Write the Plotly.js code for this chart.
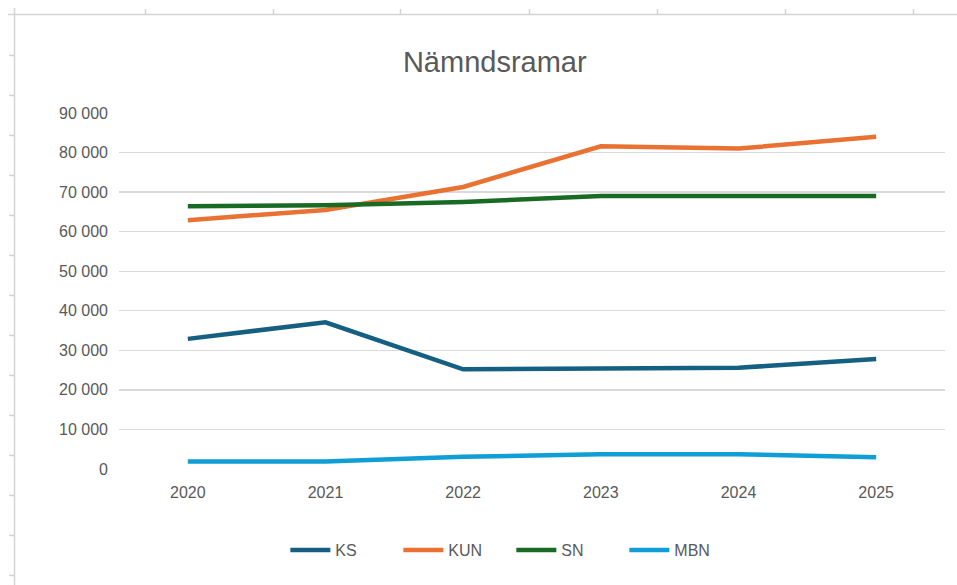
<!DOCTYPE html>
<html>
<head>
<meta charset="utf-8">
<script src="https://cdn.plot.ly/plotly-3.0.1.min.js"></script>
<style>
  html, body { margin: 0; padding: 0; background: #ffffff; }
  #wrap { position: relative; width: 957px; height: 585px; overflow: hidden; }
  #chart { position: absolute; left: 0; top: 0; width: 957px; height: 585px; }
  #frame { position: absolute; left: 0; top: 0; pointer-events: none; }
</style>
</head>
<body>
<div id="wrap">
  <div id="chart"></div>
  <svg id="frame" width="957" height="585"></svg>
</div>
<script>
const years = ['2020', '2021', '2022', '2023', '2024', '2025'];
const seriesNames = ['KS', 'KUN', 'SN', 'MBN'];
const ks  = [32900, 37100, 25200, 25500, 25600, 27800];
const kun = [62900, 65500, 71300, 81600, 81000, 84000];
const sn  = [66400, 66700, 67500, 69000, 69000, 69000];
const mbn = [1900, 1900, 3100, 3700, 3700, 3000];
const seriesColors = ['#156082', '#E97132', '#196B24', '#0F9ED5'];
const yTicks = [0, 10000, 20000, 30000, 40000, 50000, 60000, 70000, 80000, 90000];
const yTickText = ['0', '10 000', '20 000', '30 000', '40 000', '50 000', '60 000', '70 000', '80 000', '90 000'];

const values = [ks, kun, sn, mbn];
const traces = values.map((v, i) => ({
  type: 'scatter',
  mode: 'lines',
  name: seriesNames[i],
  x: years,
  y: v,
  line: { color: seriesColors[i], width: 4.5 },
  hoverinfo: 'skip'
}));

const font = 'Liberation Sans, Arial, sans-serif';
const layout = {
  width: 957,
  height: 585,
  paper_bgcolor: '#ffffff',
  plot_bgcolor: '#ffffff',
  margin: { l: 119, r: 12, t: 113, b: 116 },
  title: {
    text: 'Nämndsramar',
    font: { family: font, size: 29, color: '#595959' },
    xref: 'container', x: 0.517, xanchor: 'center',
    yref: 'container', y: 1 - 62 / 585, yanchor: 'middle'
  },
  xaxis: {
    type: 'category',
    range: [-0.5, 5.5],
    showgrid: false,
    showline: false,
    zeroline: false,
    ticks: '',
    tickfont: { family: font, size: 16, color: '#595959' },
    ticklabelstandoff: 12
  },
  yaxis: {
    range: [0, 90000],
    tickmode: 'array',
    tickvals: yTicks,
    ticktext: yTickText,
    showgrid: true,
    gridcolor: '#d9d9d9',
    gridwidth: 1.3,
    zeroline: false,
    showline: false,
    ticks: '',
    tickfont: { family: font, size: 16, color: '#595959' },
    ticklabelstandoff: 10
  },
  legend: {
    orientation: 'h',
    x: 0.475, xanchor: 'center',
    y: (469 - 550) / 356, yanchor: 'middle',
    font: { family: font, size: 16, color: '#595959' },
    entrywidth: 58,
    entrywidthmode: 'pixels',
    itemwidth: 40,
    tracegroupgap: 0
  },
  showlegend: true
};

Plotly.newPlot('chart', traces, layout, { staticPlot: true, displayModeBar: false });

// spreadsheet cell frame behind the chart (decoration)
const svg = document.getElementById('frame');
const ns = 'http://www.w3.org/2000/svg';
function ln(x1, y1, x2, y2) {
  const l = document.createElementNS(ns, 'line');
  l.setAttribute('x1', x1); l.setAttribute('y1', y1);
  l.setAttribute('x2', x2); l.setAttribute('y2', y2);
  l.setAttribute('stroke', '#d4d4d4');
  l.setAttribute('stroke-width', '1.5');
  svg.appendChild(l);
}
ln(8, 14.5, 957, 14.5);
ln(14.5, 8, 14.5, 585);
[145, 273, 400, 529, 657, 785, 913].forEach(x => ln(x + 0.5, 9, x + 0.5, 14));
for (let y = 55; y <= 575; y += 40) ln(9, y + 0.5, 14, y + 0.5);
</script>
</body>
</html>
